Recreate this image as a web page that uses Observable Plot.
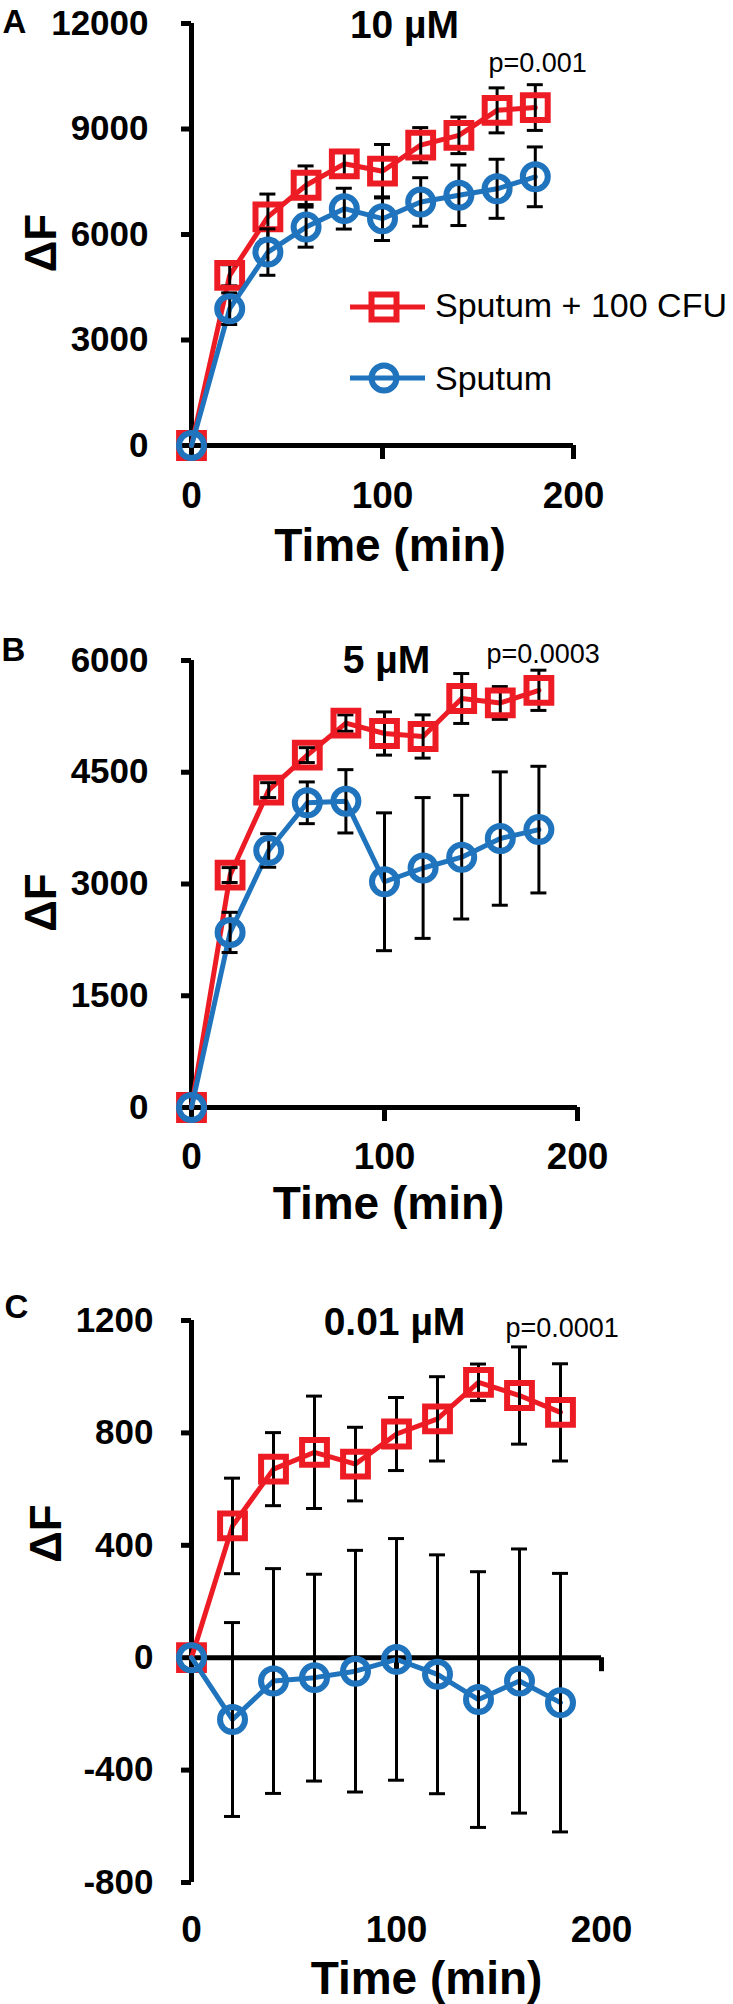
<!DOCTYPE html>
<html>
<head>
<meta charset="utf-8">
<script src="https://cdn.jsdelivr.net/npm/d3@7"></script>
<script src="https://cdn.jsdelivr.net/npm/@observablehq/plot@0.6"></script>
<style>
  html, body { margin: 0; padding: 0; background: #fff; }
  #root { position: relative; width: 733px; height: 2004px; overflow: hidden;
          font-family: "Liberation Sans", Arial, Helvetica, sans-serif; }
  .panel { position: absolute; left: 0; }
  .panel svg { overflow: visible; }
</style>
</head>
<body>
<div id="root"></div>
<script>
// ---------------- data ----------------
const times = [0, 20, 40, 60, 80, 100, 120, 140, 160, 180];
const xTicks = [0, 100, 200];
const seriesNames = ["Sputum + 100 CFU", "Sputum"];
const seriesColors = ["#ED1C24", "#1F74BD"];

// Panel A: 10 µM
const aTitle = "10 µM";
const aP = "p=0.001";
const aYTicks = [0, 3000, 6000, 9000, 12000];
const aCfuMean = [0, 4840, 6500, 7400, 8010, 7800, 8540, 8820, 9530, 9610];
const aCfuErr  = [0, 300, 650, 550, 380, 760, 500, 520, 640, 650];
const aSpuMean = [0, 3890, 5500, 6210, 6735, 6450, 6925, 7115, 7300, 7640];
const aSpuErr  = [0, 450, 660, 570, 580, 620, 690, 860, 840, 850];

// Panel B: 5 µM
const bTitle = "5 µM";
const bP = "p=0.0003";
const bYTicks = [0, 1500, 3000, 4500, 6000];
const bCfuMean = [0, 3120, 4260, 4730, 5160, 5020, 4980, 5490, 5430, 5600];
const bCfuErr  = [0, 100, 100, 100, 110, 290, 290, 335, 220, 270];
const bSpuMean = [0, 2350, 3450, 4090, 4110, 3030, 3215, 3360, 3610, 3730];
const bSpuErr  = [0, 270, 225, 280, 425, 925, 945, 830, 895, 850];

// Panel C: 0.01 µM
const cTitle = "0.01 µM";
const cP = "p=0.0001";
const cYTicks = [-800, -400, 0, 400, 800, 1200];
const cCfuMean = [0, 469, 671, 731, 689, 796, 850, 980, 933, 873];
const cCfuErr  = [0, 170, 130, 200, 131, 130, 150, 65, 173, 173];
const cSpuMean = [0, -220, -83, -71, -48, -6, -59, -149, -83, -160];
const cSpuErr  = [0, 345, 400, 368, 430, 430, 425, 455, 470, 460];

const letters = ["A", "B", "C"];
const yLabel = "ΔF";
const xLabel = "Time (min)";

// ---------------- drawing ----------------
const FONT = '"Liberation Sans", Arial, Helvetica, sans-serif';

function rows(mean, err) {
  return times.map((t, i) => ({t, m: mean[i], e: err[i]}));
}

function seriesMarks(data, color, symbol, r) {
  const eb = data.filter(d => d.e > 0);
  return [
    Plot.line(data, {x: "t", y: "m", stroke: color, strokeWidth: 5}),
    Plot.ruleX(eb, {x: "t", y1: d => d.m - d.e, y2: d => d.m + d.e, stroke: "#000", strokeWidth: 3}),
    Plot.ruleY(eb, {y: d => d.m + d.e, x1: "t", x2: "t", insetLeft: -8, insetRight: -8, stroke: "#000", strokeWidth: 3}),
    Plot.ruleY(eb, {y: d => d.m - d.e, x1: "t", x2: "t", insetLeft: -8, insetRight: -8, stroke: "#000", strokeWidth: 3}),
    Plot.dot(data, {x: "t", y: "m", symbol, r, stroke: color, strokeWidth: 6, fill: "none"})
  ];
}

function panel(cfg) {
  const yd = [cfg.yTicks[0], cfg.yTicks[cfg.yTicks.length - 1]];
  const t = cfg.text;
  return Plot.plot({
    width: 733,
    height: cfg.height,
    marginLeft: 191,
    marginRight: cfg.mr,
    marginTop: cfg.mt,
    marginBottom: cfg.mb,
    x: {domain: [0, 200], label: null},
    y: {domain: yd, label: null},
    style: {fontFamily: FONT, color: "#000", background: "transparent", overflow: "visible"},
    marks: [
      // axis lines
      Plot.ruleX([0], {y1: () => yd[0], y2: () => yd[1], stroke: "#000", strokeWidth: 5}),
      Plot.ruleY([0], {x1: () => 0, x2: () => 200, stroke: "#000", strokeWidth: 5}),
      Plot.axisY(cfg.yTicks, {tickSize: 10, strokeWidth: 5, tickPadding: cfg.yPad, fontSize: 35,
        fontWeight: "bold", label: null, tickFormat: d => String(d)}),
      Plot.ruleX(xTicks, {x: d => d, y1: () => 0, y2: () => 0, insetBottom: -14, stroke: "#000", strokeWidth: 5}),
      Plot.axisX(xTicks, {tickSize: 0, tickPadding: cfg.xPad, fontSize: 37, fontWeight: "bold",
        label: null, tickFormat: d => String(d)}),
      // series: red first, blue on top
      ...seriesMarks(cfg.cfu, seriesColors[0], "square", 14),
      ...seriesMarks(cfg.spu, seriesColors[1], "circle", 12.5),
      // annotations
      Plot.text([cfg.letter], {text: d => d, frameAnchor: "top-left", dx: t.letter[0], dy: t.letter[1],
        textAnchor: "start", lineAnchor: "bottom", fontSize: 33, fontWeight: "bold"}),
      Plot.text([cfg.title], {text: d => d, frameAnchor: "top", dx: t.title[0], dy: t.title[1],
        textAnchor: "middle", lineAnchor: "bottom", fontSize: 39, fontWeight: "bold"}),
      Plot.text([cfg.p], {text: d => d, frameAnchor: "top-right", dx: t.p[0], dy: t.p[1],
        textAnchor: "start", lineAnchor: "bottom", fontSize: 27}),
      Plot.text([yLabel], {text: d => d, frameAnchor: "left", dx: t.ylab[0], dy: t.ylab[1],
        rotate: -90, textAnchor: "middle", lineAnchor: "middle", fontSize: 44, fontWeight: "bold"}),
      Plot.text([xLabel], {text: d => d, frameAnchor: "bottom", dx: t.xlab[0], dy: t.xlab[1],
        textAnchor: "middle", lineAnchor: "bottom", fontSize: 46, fontWeight: "bold"})
    ]
  });
}

const panels = [
  {top: 0, height: 600, mt: 23, mb: 155, mr: 160, yPad: 33, xPad: 36,
   yTicks: aYTicks, cfu: rows(aCfuMean, aCfuErr), spu: rows(aSpuMean, aSpuErr),
   letter: letters[0], title: aTitle, p: aP,
   text: {letter: [-189, 9], title: [22, 14], p: [-85, 48], ylab: [-149.5, 8.5], xlab: [7.5, 115]}},
  {top: 620, height: 620, mt: 40, mb: 133, mr: 156, yPad: 33, xPad: 35,
   yTicks: bYTicks, cfu: rows(bCfuMean, bCfuErr), spu: rows(bSpuMean, bSpuErr),
   letter: letters[1], title: bTitle, p: bP,
   text: {letter: [-190, 0], title: [2, 12], p: [-91, 2], ylab: [-149.5, 18.5], xlab: [4, 111]}},
  {top: 1240, height: 764, mt: 80, mb: 122, mr: 132, yPad: 28, xPad: 33,
   yTicks: cYTicks, cfu: rows(cCfuMean, cCfuErr), spu: rows(cSpuMean, cSpuErr),
   letter: letters[2], title: cTitle, p: cP,
   text: {letter: [-187, -3], title: [-2, 14], p: [-96, 16], ylab: [-145, -68], xlab: [30, 111]}}
];

const root = document.getElementById("root");
for (const cfg of panels) {
  const div = document.createElement("div");
  div.className = "panel";
  div.style.top = cfg.top + "px";
  div.appendChild(panel(cfg));
  root.appendChild(div);
}

// legend (inside panel A)
const ns = "http://www.w3.org/2000/svg";
const leg = document.createElementNS(ns, "svg");
leg.setAttribute("width", 733);
leg.setAttribute("height", 600);
leg.style.position = "absolute";
leg.style.left = "0px";
leg.style.top = "0px";
leg.style.pointerEvents = "none";
const legendRows = [{y: 307, base: 317}, {y: 378, base: 390}];
seriesNames.forEach((name, i) => {
  const {y, base} = legendRows[i];
  const c = seriesColors[i];
  const line = document.createElementNS(ns, "line");
  line.setAttribute("x1", 350); line.setAttribute("x2", 425);
  line.setAttribute("y1", y); line.setAttribute("y2", y);
  line.setAttribute("stroke", c); line.setAttribute("stroke-width", 5);
  leg.appendChild(line);
  let m;
  if (i === 0) {
    m = document.createElementNS(ns, "rect");
    m.setAttribute("x", 384 - 12.5); m.setAttribute("y", y - 12.5);
    m.setAttribute("width", 25); m.setAttribute("height", 25);
  } else {
    m = document.createElementNS(ns, "circle");
    m.setAttribute("cx", 384); m.setAttribute("cy", y); m.setAttribute("r", 12.5);
  }
  m.setAttribute("fill", "none"); m.setAttribute("stroke", c); m.setAttribute("stroke-width", 6);
  leg.appendChild(m);
  const tx = document.createElementNS(ns, "text");
  tx.setAttribute("x", 435); tx.setAttribute("y", base);
  tx.setAttribute("font-size", 34);
  tx.setAttribute("font-family", FONT);
  tx.setAttribute("fill", "#000");
  tx.textContent = name;
  leg.appendChild(tx);
});
root.appendChild(leg);
</script>
</body>
</html>
